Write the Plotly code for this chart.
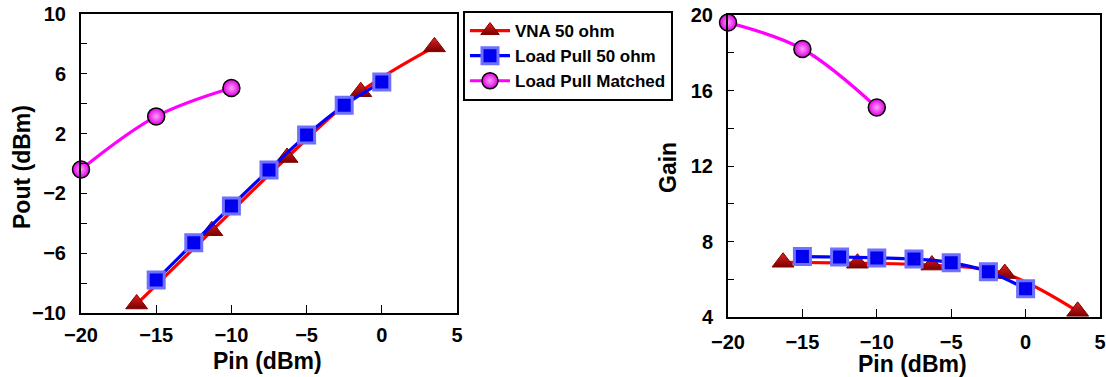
import plotly.graph_objects as go

# ---- data ----
vna_pin = [-16.3, -11.3, -6.3, -1.4, 3.5]
vna_pout = [-9.4, -4.5, 0.4, 4.8, 7.8]
vna_gain = [6.9, 6.85, 6.75, 6.3, 4.3]

lp_pin = [-15, -12.5, -10, -7.5, -5, -2.5, 0]
lp_pout = [-7.8, -5.3, -2.85, -0.43, 1.9, 3.9, 5.45]
lp_gain = [7.2, 7.18, 7.13, 7.07, 6.88, 6.4, 5.5]

m_pin = [-20, -15, -10]
m_pout = [-0.4, 3.15, 5.05]
m_gain = [19.6, 18.2, 15.1]

series = [
    ("VNA 50 ohm", vna_pin, vna_pout, vna_gain, "#ff0000",
     dict(symbol="triangle-up", size=19, color="#e02020",
          gradient=dict(type="vertical", color="#7a0000"),
          line=dict(color="#800000", width=1))),
    ("Load Pull 50 ohm", lp_pin, lp_pout, lp_gain, "#0000ff",
     dict(symbol="square", size=16, color="#0000ee",
          line=dict(color="#7070ff", width=3))),
    ("Load Pull Matched", m_pin, m_pout, m_gain, "#ff00ff",
     dict(symbol="circle", size=17, color="#dd00dd",
          gradient=dict(type="radial", color="#ff9cff"),
          line=dict(color="#000000", width=1.5))),
]

fig = go.Figure()
for name, px, pout, gain, col, mk in series:
    fig.add_trace(go.Scatter(x=px, y=pout, name=name, mode="lines+markers",
                             line=dict(color=col, width=3.2, shape="spline"),
                             marker=mk, cliponaxis=False,
                             xaxis="x", yaxis="y"))
    fig.add_trace(go.Scatter(x=px, y=gain, name=name, mode="lines+markers",
                             line=dict(color=col, width=3.2, shape="spline"),
                             marker=mk, cliponaxis=False, showlegend=False,
                             xaxis="x2", yaxis="y2"))

W, H = 1106, 377
font = "Liberation Sans, Arial, sans-serif"
tickfont = dict(family=font, size=20, color="black", weight="bold")

axcommon = dict(showline=True, linewidth=2, linecolor="black", mirror=True,
                ticks="inside", tickcolor="black", tickwidth=1.2,
                showgrid=False, zeroline=False, tickfont=tickfont,
                automargin=False)

fig.update_layout(
    width=W, height=H,
    margin=dict(l=0, r=0, t=0, b=0),
    paper_bgcolor="white", plot_bgcolor="white",
    showlegend=True,
    xaxis=dict(domain=[81 / W, 457 / W], range=[-20, 5], tickmode="linear",
               tick0=-20, dtick=5, ticklen=8, anchor="y", ticklabelstandoff=3,
               **axcommon),
    yaxis=dict(domain=[1 - 313 / H, 1 - 14 / H], range=[-10, 10], tickmode="linear",
               tick0=-10, dtick=4, ticklen=6, anchor="x", ticklabelstandoff=9,
               minor=dict(dtick=2, tick0=-10, ticks="inside", ticklen=6, tickcolor="black"),
               **axcommon),
    xaxis2=dict(domain=[728 / W, 1100 / W], range=[-20, 5], tickmode="linear",
                tick0=-20, dtick=5, ticklen=8, anchor="y2", ticklabelstandoff=6,
                **axcommon),
    yaxis2=dict(domain=[1 - 317 / H, 1 - 15 / H], range=[4, 20], tickmode="linear",
                tick0=4, dtick=4, ticklen=6, anchor="x2", ticklabelstandoff=9,
                minor=dict(dtick=2, tick0=4, ticks="inside", ticklen=6, tickcolor="black"),
                **axcommon),
    legend=dict(x=463 / W, y=1 - 11 / H, xanchor="left", yanchor="top",
                bgcolor="white", bordercolor="black", borderwidth=2,
                font=dict(family=font, size=17, color="black", weight="bold"),
                tracegroupgap=0, itemwidth=40),
)

titlefont = dict(family=font, size=23, color="black", weight="bold")
annos = [
    dict(text="Pin (dBm)", x=267 / W, y=1 - 361 / H),
    dict(text="Pin (dBm)", x=912 / W, y=1 - 364 / H),
    dict(text="Pout (dBm)", x=22 / W, y=1 - 167 / H, textangle=-90),
    dict(text="Gain", x=668 / W, y=1 - 168 / H, textangle=-90),
]
for a in annos:
    fig.add_annotation(xref="paper", yref="paper", showarrow=False,
                       xanchor="center", yanchor="middle", font=titlefont, **a)

fig.write_html("out.html", config={"displayModeBar": False},
               post_script="document.body.style.margin='0';document.body.style.overflow='hidden';")
